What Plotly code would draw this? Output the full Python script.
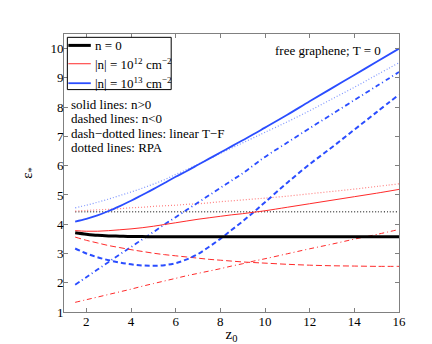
import plotly.graph_objects as go

# z0 sample points
z0 = [1.5, 2, 2.5, 3, 3.5, 4, 4.5, 5, 5.5, 6, 6.5, 7, 7.5, 8, 8.5, 9, 9.5, 10,
      11, 12, 13, 14, 15, 16]

# n = 0
n0_tf = [3.71, 3.66, 3.62, 3.6, 3.59, 3.58, 3.58, 3.57, 3.57, 3.57, 3.57, 3.57, 3.57, 3.57,
         3.57, 3.57, 3.57, 3.57, 3.57, 3.57, 3.57, 3.57, 3.57, 3.57]
n0_rpa = [4.43] * len(z0)

# |n| = 1e12
r_pos = [3.78, 3.76, 3.76, 3.78, 3.81, 3.84, 3.88, 3.93, 3.99, 4.05, 4.11, 4.17, 4.22, 4.27,
         4.32, 4.36, 4.41, 4.46, 4.58, 4.7, 4.82, 4.94, 5.06, 5.19]
r_neg = [3.56, 3.45, 3.36, 3.27, 3.2, 3.13, 3.07, 3.01, 2.96, 2.92, 2.88, 2.84, 2.8, 2.77,
         2.74, 2.71, 2.69, 2.67, 2.63, 2.6, 2.58, 2.57, 2.56, 2.56]
r_lin = [1.33, 1.42, 1.51, 1.6, 1.69, 1.78, 1.88, 1.97, 2.06, 2.15, 2.24, 2.32, 2.4, 2.48,
         2.57, 2.65, 2.74, 2.82, 2.99, 3.16, 3.32, 3.49, 3.65, 3.82]
r_rpa = [4.45, 4.47, 4.49, 4.51, 4.53, 4.56, 4.58, 4.61, 4.63, 4.65, 4.68, 4.7, 4.73, 4.77,
         4.8, 4.83, 4.86, 4.89, 4.96, 5.04, 5.12, 5.2, 5.29, 5.38]

# |n| = 1e13
b_pos = [4.09, 4.18, 4.3, 4.45, 4.62, 4.8, 5.0, 5.2, 5.41, 5.62, 5.82, 6.03, 6.24, 6.45,
         6.66, 6.87, 7.08, 7.3, 7.74, 8.2, 8.65, 9.1, 9.55, 10.0]
b_neg = [3.17, 3.0, 2.87, 2.77, 2.69, 2.63, 2.59, 2.58, 2.6, 2.67, 2.8, 2.98, 3.23, 3.5,
         3.8, 4.1, 4.42, 4.75, 5.42, 6.05, 6.63, 7.23, 7.83, 8.43]
b_lin = [1.93, 2.19, 2.45, 2.71, 2.97, 3.22, 3.48, 3.73, 3.99, 4.24, 4.49, 4.74, 4.99, 5.24,
         5.49, 5.74, 6.02, 6.3, 6.79, 7.28, 7.76, 8.24, 8.72, 9.2]
b_rpa = [4.56, 4.65, 4.75, 4.86, 4.98, 5.1, 5.23, 5.37, 5.52, 5.7, 5.87, 6.05, 6.23, 6.42,
         6.6, 6.78, 6.96, 7.14, 7.5, 7.88, 8.28, 8.68, 9.1, 9.52]

legend_names = ["n = 0",
                "|n| = 10<sup>12</sup> cm<sup>\u22122</sup>",
                "|n| = 10<sup>13</sup> cm<sup>\u22122</sup>"]
notes = ["solid lines: n>0", "dashed lines: n<0",
         "dash\u2212dotted lines: linear T\u2212F", "dotted lines: RPA"]

black = "black"
red = "#ff2a2a"
blue = "#2a4dff"
font = "Liberation Serif"

fig = go.Figure()

def add(y, color, width, dash):
    fig.add_trace(go.Scatter(
        x=z0, y=y, mode="lines", showlegend=False, hoverinfo="skip",
        line=dict(color=color, width=width, dash=dash, shape="spline")))

add(n0_rpa, "#555555", 1.5, "1px,2px")
add(r_rpa, "#ff8080", 1.2, "1px,2px")
add(b_rpa, "#7f96ff", 1.2, "1px,2px")
add(r_lin, red, 1, "5px,3px,1px,3px")
add(b_lin, blue, 1.8, "5px,3px,1px,3px")
add(r_neg, red, 1, "6px,3px")
add(b_neg, blue, 2, "5px,3px")
add(n0_tf, black, 3, "solid")
add(r_pos, red, 1, "solid")
add(b_pos, blue, 1.8, "solid")

axis = dict(showline=True, linecolor="#808080", linewidth=1, mirror="ticks",
            ticks="inside", ticklen=4, tickcolor="#808080", showgrid=False,
            zeroline=False, tickfont=dict(family=font, size=13, color="black"))

fig.update_xaxes(range=[1, 16], tickvals=[2, 4, 6, 8, 10, 12, 14, 16],
                 ticklabelstandoff=-3,
                 title=dict(text="z<sub>0</sub>", font=dict(family=font, size=15, color="black"),
                            standoff=0),
                 **axis)
fig.update_yaxes(range=[1, 10.5], tickvals=list(range(1, 11)),
                 ticklabelstandoff=-3,
                 title=dict(text="\u03b5<sub>*</sub>", font=dict(family=font, size=15, color="black"),
                            standoff=14),
                 **axis)

# legend box drawn by hand (MATLAB style)
fig.add_shape(type="rect", xref="paper", yref="paper", x0=0.01, x1=0.32, y0=0.8, y1=0.988,
              line=dict(color="black", width=1), fillcolor="white", layer="above")
leg_y = [0.959, 0.893, 0.823]
leg_style = [(black, 3), (red, 1), (blue, 1.8)]
for yy, (c, w), name in zip(leg_y, leg_style, legend_names):
    fig.add_shape(type="line", xref="paper", yref="paper", x0=0.013, x1=0.08, y0=yy, y1=yy,
                  line=dict(color=c, width=w), layer="above")
    fig.add_annotation(x=0.086, y=yy, xref="paper", yref="paper", xanchor="left",
                       yanchor="middle", showarrow=False, text=name,
                       font=dict(family=font, size=13, color="black"))

for i, t in enumerate(notes):
    fig.add_annotation(x=0.015, y=0.748 - i * 0.0525, xref="paper", yref="paper",
                       xanchor="left", yanchor="middle", showarrow=False, text=t,
                       font=dict(family=font, size=13, color="black"))

fig.add_annotation(x=0.952, y=0.942, xref="paper", yref="paper", xanchor="right",
                   yanchor="middle", showarrow=False, text="free graphene; T = 0",
                   font=dict(family=font, size=13, color="black"))

fig.update_layout(
    width=432, height=344,
    margin=dict(l=56, r=41, t=26, b=40),
    paper_bgcolor="white", plot_bgcolor="white",
    font=dict(family=font),
    showlegend=False,
)

fig.write_html("out.html")
